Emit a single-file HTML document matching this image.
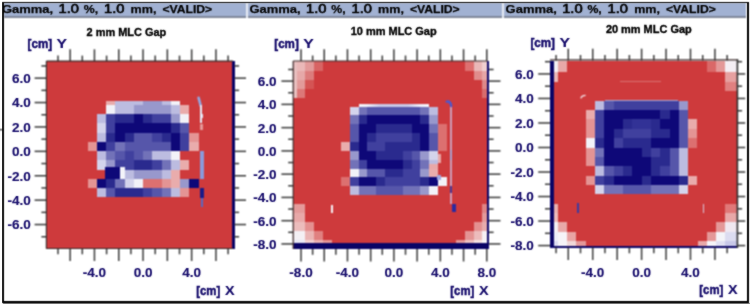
<!DOCTYPE html>
<html><head><meta charset="utf-8"><style>
html,body{margin:0;padding:0;background:#fff;width:750px;height:304px;overflow:hidden}
body{position:relative;font-family:"Liberation Sans",sans-serif}
</style></head><body>
<svg width="750" height="304" viewBox="0 0 750 304" style="position:absolute;left:0;top:0" shape-rendering="crispEdges">
<defs>
<filter id="bl" x="0" y="0" width="1" height="1" color-interpolation-filters="sRGB"><feConvolveMatrix order="3" kernelMatrix="1 2 1 2 4 2 1 2 1" divisor="16" edgeMode="duplicate"/></filter>
<filter id="bt" x="0" y="0" width="1" height="1" color-interpolation-filters="sRGB"><feConvolveMatrix order="3" kernelMatrix="1 2 1 2 16 2 1 2 1" divisor="28" edgeMode="none" preserveAlpha="false"/></filter>
<clipPath id="c0"><rect x="46.4" y="61.1" width="189.6" height="188.4"/></clipPath>
<clipPath id="c1"><rect x="293.2" y="61.0" width="197.3" height="189.0"/></clipPath>
<clipPath id="c2"><rect x="550.0" y="60.5" width="189.60000000000002" height="188.0"/></clipPath>
</defs>
<g filter="url(#bl)">
<rect x="0.00" y="0.00" width="750.00" height="304.00" fill="#ffffff"/>
<rect x="4.00" y="3.00" width="242.00" height="13.40" fill="#a1b1d2"/>
<rect x="4.00" y="16.40" width="242.00" height="1.60" fill="#7e8698"/>
<rect x="46.40" y="61.10" width="186.60" height="187.40" fill="#ce3a3c"/>
<g clip-path="url(#c0)">
<rect x="106.02" y="100.60" width="9.26" height="4.30" fill="#e9acac"/>
<rect x="115.28" y="100.60" width="9.26" height="4.30" fill="#bcbce0"/>
<rect x="124.53" y="100.60" width="9.26" height="4.30" fill="#bcbce0"/>
<rect x="133.79" y="100.60" width="9.26" height="4.30" fill="#bcbce0"/>
<rect x="143.05" y="100.60" width="9.26" height="4.30" fill="#9898cc"/>
<rect x="152.31" y="100.60" width="9.26" height="4.30" fill="#9898cc"/>
<rect x="161.57" y="100.60" width="9.26" height="4.30" fill="#bcbce0"/>
<rect x="170.82" y="100.60" width="9.26" height="4.30" fill="#f2f2f8"/>
<rect x="106.02" y="104.91" width="9.26" height="9.26" fill="#f2f2f8"/>
<rect x="115.28" y="104.91" width="9.26" height="9.26" fill="#bcbce0"/>
<rect x="124.53" y="104.91" width="9.26" height="9.26" fill="#bcbce0"/>
<rect x="133.79" y="104.91" width="9.26" height="9.26" fill="#9898cc"/>
<rect x="143.05" y="104.91" width="9.26" height="9.26" fill="#9898cc"/>
<rect x="152.31" y="104.91" width="9.26" height="9.26" fill="#9898cc"/>
<rect x="161.57" y="104.91" width="9.26" height="9.26" fill="#9898cc"/>
<rect x="170.82" y="104.91" width="9.26" height="9.26" fill="#bcbce0"/>
<rect x="180.08" y="104.91" width="9.26" height="9.26" fill="#e9acac"/>
<rect x="96.76" y="114.17" width="9.26" height="9.26" fill="#bcbce0"/>
<rect x="106.02" y="114.17" width="9.26" height="9.26" fill="#40409e"/>
<rect x="115.28" y="114.17" width="9.26" height="9.26" fill="#2a2a8e"/>
<rect x="124.53" y="114.17" width="9.26" height="9.26" fill="#2a2a8e"/>
<rect x="133.79" y="114.17" width="9.26" height="9.26" fill="#0e0878"/>
<rect x="143.05" y="114.17" width="9.26" height="9.26" fill="#2a2a8e"/>
<rect x="152.31" y="114.17" width="9.26" height="9.26" fill="#40409e"/>
<rect x="161.57" y="114.17" width="9.26" height="9.26" fill="#40409e"/>
<rect x="170.82" y="114.17" width="9.26" height="9.26" fill="#9898cc"/>
<rect x="180.08" y="114.17" width="9.26" height="9.26" fill="#f2f2f8"/>
<rect x="96.76" y="123.43" width="9.26" height="9.26" fill="#d4d4ec"/>
<rect x="106.02" y="123.43" width="9.26" height="9.26" fill="#40409e"/>
<rect x="115.28" y="123.43" width="9.26" height="9.26" fill="#0e0878"/>
<rect x="124.53" y="123.43" width="9.26" height="9.26" fill="#0e0878"/>
<rect x="133.79" y="123.43" width="9.26" height="9.26" fill="#0e0878"/>
<rect x="143.05" y="123.43" width="9.26" height="9.26" fill="#0e0878"/>
<rect x="152.31" y="123.43" width="9.26" height="9.26" fill="#0e0878"/>
<rect x="161.57" y="123.43" width="9.26" height="9.26" fill="#0e0878"/>
<rect x="170.82" y="123.43" width="9.26" height="9.26" fill="#2a2a8e"/>
<rect x="180.08" y="123.43" width="9.26" height="9.26" fill="#5656aa"/>
<rect x="96.76" y="132.68" width="9.26" height="9.26" fill="#bcbce0"/>
<rect x="106.02" y="132.68" width="9.26" height="9.26" fill="#2a2a8e"/>
<rect x="115.28" y="132.68" width="9.26" height="9.26" fill="#0e0878"/>
<rect x="124.53" y="132.68" width="9.26" height="9.26" fill="#2a2a8e"/>
<rect x="133.79" y="132.68" width="9.26" height="9.26" fill="#5656aa"/>
<rect x="143.05" y="132.68" width="9.26" height="9.26" fill="#5656aa"/>
<rect x="152.31" y="132.68" width="9.26" height="9.26" fill="#40409e"/>
<rect x="161.57" y="132.68" width="9.26" height="9.26" fill="#2a2a8e"/>
<rect x="170.82" y="132.68" width="9.26" height="9.26" fill="#0e0878"/>
<rect x="180.08" y="132.68" width="9.26" height="9.26" fill="#40409e"/>
<rect x="189.34" y="132.68" width="9.26" height="9.26" fill="#e49494"/>
<rect x="87.50" y="141.94" width="9.26" height="9.26" fill="#e49494"/>
<rect x="96.76" y="141.94" width="9.26" height="9.26" fill="#0e0878"/>
<rect x="106.02" y="141.94" width="9.26" height="9.26" fill="#40409e"/>
<rect x="115.28" y="141.94" width="9.26" height="9.26" fill="#7272b8"/>
<rect x="124.53" y="141.94" width="9.26" height="9.26" fill="#5656aa"/>
<rect x="133.79" y="141.94" width="9.26" height="9.26" fill="#5656aa"/>
<rect x="143.05" y="141.94" width="9.26" height="9.26" fill="#5656aa"/>
<rect x="152.31" y="141.94" width="9.26" height="9.26" fill="#5656aa"/>
<rect x="161.57" y="141.94" width="9.26" height="9.26" fill="#5656aa"/>
<rect x="170.82" y="141.94" width="9.26" height="9.26" fill="#0e0878"/>
<rect x="180.08" y="141.94" width="9.26" height="9.26" fill="#40409e"/>
<rect x="189.34" y="141.94" width="9.26" height="9.26" fill="#e9acac"/>
<rect x="96.76" y="151.20" width="9.26" height="9.26" fill="#bcbce0"/>
<rect x="106.02" y="151.20" width="9.26" height="9.26" fill="#7272b8"/>
<rect x="115.28" y="151.20" width="9.26" height="9.26" fill="#5656aa"/>
<rect x="124.53" y="151.20" width="9.26" height="9.26" fill="#40409e"/>
<rect x="133.79" y="151.20" width="9.26" height="9.26" fill="#5656aa"/>
<rect x="143.05" y="151.20" width="9.26" height="9.26" fill="#7272b8"/>
<rect x="152.31" y="151.20" width="9.26" height="9.26" fill="#bcbce0"/>
<rect x="161.57" y="151.20" width="9.26" height="9.26" fill="#bcbce0"/>
<rect x="170.82" y="151.20" width="9.26" height="9.26" fill="#f2f2f8"/>
<rect x="96.76" y="160.46" width="9.26" height="9.26" fill="#d4d4ec"/>
<rect x="106.02" y="160.46" width="9.26" height="9.26" fill="#9898cc"/>
<rect x="115.28" y="160.46" width="9.26" height="9.26" fill="#40409e"/>
<rect x="124.53" y="160.46" width="9.26" height="9.26" fill="#40409e"/>
<rect x="133.79" y="160.46" width="9.26" height="9.26" fill="#2a2a8e"/>
<rect x="143.05" y="160.46" width="9.26" height="9.26" fill="#2a2a8e"/>
<rect x="152.31" y="160.46" width="9.26" height="9.26" fill="#40409e"/>
<rect x="161.57" y="160.46" width="9.26" height="9.26" fill="#7272b8"/>
<rect x="170.82" y="160.46" width="9.26" height="9.26" fill="#bcbce0"/>
<rect x="180.08" y="160.46" width="9.26" height="9.26" fill="#e9acac"/>
<rect x="106.02" y="169.72" width="9.26" height="9.26" fill="#0e0878"/>
<rect x="115.28" y="169.72" width="9.26" height="9.26" fill="#0e0878"/>
<rect x="124.53" y="169.72" width="9.26" height="9.26" fill="#bcbce0"/>
<rect x="133.79" y="169.72" width="9.26" height="9.26" fill="#9898cc"/>
<rect x="143.05" y="169.72" width="9.26" height="9.26" fill="#9898cc"/>
<rect x="152.31" y="169.72" width="9.26" height="9.26" fill="#9898cc"/>
<rect x="161.57" y="169.72" width="9.26" height="9.26" fill="#bcbce0"/>
<rect x="170.82" y="169.72" width="9.26" height="9.26" fill="#e9acac"/>
<rect x="87.50" y="178.97" width="9.26" height="9.26" fill="#e49494"/>
<rect x="96.76" y="178.97" width="9.26" height="9.26" fill="#0e0878"/>
<rect x="106.02" y="178.97" width="9.26" height="9.26" fill="#2a2a8e"/>
<rect x="115.28" y="178.97" width="9.26" height="9.26" fill="#7272b8"/>
<rect x="124.53" y="178.97" width="9.26" height="9.26" fill="#d4d4ec"/>
<rect x="133.79" y="178.97" width="9.26" height="9.26" fill="#f2f2f8"/>
<rect x="143.05" y="178.97" width="9.26" height="9.26" fill="#dc7070"/>
<rect x="152.31" y="178.97" width="9.26" height="9.26" fill="#dc7070"/>
<rect x="161.57" y="178.97" width="9.26" height="9.26" fill="#e49494"/>
<rect x="170.82" y="178.97" width="9.26" height="9.26" fill="#e9acac"/>
<rect x="180.08" y="178.97" width="9.26" height="9.26" fill="#9898cc"/>
<rect x="189.34" y="178.97" width="9.26" height="9.26" fill="#0e0878"/>
<rect x="96.76" y="188.23" width="9.26" height="9.26" fill="#bcbce0"/>
<rect x="106.02" y="188.23" width="9.26" height="9.26" fill="#5656aa"/>
<rect x="115.28" y="188.23" width="9.26" height="9.26" fill="#2a2a8e"/>
<rect x="124.53" y="188.23" width="9.26" height="9.26" fill="#2a2a8e"/>
<rect x="133.79" y="188.23" width="9.26" height="9.26" fill="#2a2a8e"/>
<rect x="143.05" y="188.23" width="9.26" height="9.26" fill="#40409e"/>
<rect x="152.31" y="188.23" width="9.26" height="9.26" fill="#5656aa"/>
<rect x="161.57" y="188.23" width="9.26" height="9.26" fill="#7272b8"/>
<rect x="170.82" y="188.23" width="9.26" height="9.26" fill="#bcbce0"/>
<rect x="180.08" y="188.23" width="9.26" height="9.26" fill="#e49494"/>
<rect x="232.30" y="61.10" width="3.10" height="187.40" fill="#0a0466"/>
<rect x="104.90" y="167.20" width="15.10" height="11.80" fill="#0e0878"/>
<rect x="120.00" y="167.20" width="4.50" height="11.80" fill="#f4f4fa"/>
<path d="M198.6 97.8 L200.8 106" stroke="#90a8e4" stroke-width="2.6" fill="none" stroke-linecap="round" shape-rendering="auto"/>
<rect x="199.80" y="105.00" width="2.50" height="18.30" fill="#e6e8f6"/>
<rect x="201.50" y="114.20" width="1.90" height="3.60" fill="#e6e8f6"/>
<rect x="200.10" y="124.30" width="2.60" height="5.50" fill="#e49898"/>
<rect x="200.30" y="151.00" width="3.20" height="27.50" fill="#8a9ada"/>
<rect x="200.40" y="187.80" width="3.30" height="10.20" fill="#1a1a88"/>
<rect x="200.60" y="198.00" width="2.80" height="8.50" fill="#5a68c0"/>
</g>
<line x1="58.00" y1="61.10" x2="58.00" y2="55.60" stroke="#3a3a3a" stroke-width="1.5" shape-rendering="auto"/>
<line x1="58.00" y1="248.50" x2="58.00" y2="254.30" stroke="#3a3a3a" stroke-width="1.5" shape-rendering="auto"/>
<line x1="70.15" y1="61.10" x2="70.15" y2="49.30" stroke="#3a3a3a" stroke-width="1.5" shape-rendering="auto"/>
<line x1="70.15" y1="248.50" x2="70.15" y2="261.00" stroke="#3a3a3a" stroke-width="1.5" shape-rendering="auto"/>
<line x1="82.30" y1="61.10" x2="82.30" y2="55.60" stroke="#3a3a3a" stroke-width="1.5" shape-rendering="auto"/>
<line x1="82.30" y1="248.50" x2="82.30" y2="254.30" stroke="#3a3a3a" stroke-width="1.5" shape-rendering="auto"/>
<line x1="94.45" y1="61.10" x2="94.45" y2="49.30" stroke="#3a3a3a" stroke-width="1.5" shape-rendering="auto"/>
<line x1="94.45" y1="248.50" x2="94.45" y2="261.00" stroke="#3a3a3a" stroke-width="1.5" shape-rendering="auto"/>
<line x1="106.60" y1="61.10" x2="106.60" y2="55.60" stroke="#3a3a3a" stroke-width="1.5" shape-rendering="auto"/>
<line x1="106.60" y1="248.50" x2="106.60" y2="254.30" stroke="#3a3a3a" stroke-width="1.5" shape-rendering="auto"/>
<line x1="118.75" y1="61.10" x2="118.75" y2="49.30" stroke="#3a3a3a" stroke-width="1.5" shape-rendering="auto"/>
<line x1="118.75" y1="248.50" x2="118.75" y2="261.00" stroke="#3a3a3a" stroke-width="1.5" shape-rendering="auto"/>
<line x1="130.90" y1="61.10" x2="130.90" y2="55.60" stroke="#3a3a3a" stroke-width="1.5" shape-rendering="auto"/>
<line x1="130.90" y1="248.50" x2="130.90" y2="254.30" stroke="#3a3a3a" stroke-width="1.5" shape-rendering="auto"/>
<line x1="143.05" y1="61.10" x2="143.05" y2="49.30" stroke="#3a3a3a" stroke-width="1.5" shape-rendering="auto"/>
<line x1="143.05" y1="248.50" x2="143.05" y2="261.00" stroke="#3a3a3a" stroke-width="1.5" shape-rendering="auto"/>
<line x1="155.20" y1="61.10" x2="155.20" y2="55.60" stroke="#3a3a3a" stroke-width="1.5" shape-rendering="auto"/>
<line x1="155.20" y1="248.50" x2="155.20" y2="254.30" stroke="#3a3a3a" stroke-width="1.5" shape-rendering="auto"/>
<line x1="167.35" y1="61.10" x2="167.35" y2="49.30" stroke="#3a3a3a" stroke-width="1.5" shape-rendering="auto"/>
<line x1="167.35" y1="248.50" x2="167.35" y2="261.00" stroke="#3a3a3a" stroke-width="1.5" shape-rendering="auto"/>
<line x1="179.50" y1="61.10" x2="179.50" y2="55.60" stroke="#3a3a3a" stroke-width="1.5" shape-rendering="auto"/>
<line x1="179.50" y1="248.50" x2="179.50" y2="254.30" stroke="#3a3a3a" stroke-width="1.5" shape-rendering="auto"/>
<line x1="191.65" y1="61.10" x2="191.65" y2="49.30" stroke="#3a3a3a" stroke-width="1.5" shape-rendering="auto"/>
<line x1="191.65" y1="248.50" x2="191.65" y2="261.00" stroke="#3a3a3a" stroke-width="1.5" shape-rendering="auto"/>
<line x1="203.80" y1="61.10" x2="203.80" y2="55.60" stroke="#3a3a3a" stroke-width="1.5" shape-rendering="auto"/>
<line x1="203.80" y1="248.50" x2="203.80" y2="254.30" stroke="#3a3a3a" stroke-width="1.5" shape-rendering="auto"/>
<line x1="215.95" y1="61.10" x2="215.95" y2="49.30" stroke="#3a3a3a" stroke-width="1.5" shape-rendering="auto"/>
<line x1="215.95" y1="248.50" x2="215.95" y2="261.00" stroke="#3a3a3a" stroke-width="1.5" shape-rendering="auto"/>
<line x1="228.10" y1="61.10" x2="228.10" y2="55.60" stroke="#3a3a3a" stroke-width="1.5" shape-rendering="auto"/>
<line x1="228.10" y1="248.50" x2="228.10" y2="254.30" stroke="#3a3a3a" stroke-width="1.5" shape-rendering="auto"/>
<line x1="46.40" y1="236.75" x2="41.40" y2="236.75" stroke="#3a3a3a" stroke-width="1.5" shape-rendering="auto"/>
<line x1="234.50" y1="236.75" x2="239.10" y2="236.75" stroke="#3a3a3a" stroke-width="1.5" shape-rendering="auto"/>
<line x1="46.40" y1="224.55" x2="34.60" y2="224.55" stroke="#3a3a3a" stroke-width="1.5" shape-rendering="auto"/>
<line x1="234.50" y1="224.55" x2="246.00" y2="224.55" stroke="#3a3a3a" stroke-width="1.5" shape-rendering="auto"/>
<line x1="46.40" y1="212.35" x2="41.40" y2="212.35" stroke="#3a3a3a" stroke-width="1.5" shape-rendering="auto"/>
<line x1="234.50" y1="212.35" x2="239.10" y2="212.35" stroke="#3a3a3a" stroke-width="1.5" shape-rendering="auto"/>
<line x1="46.40" y1="200.15" x2="34.60" y2="200.15" stroke="#3a3a3a" stroke-width="1.5" shape-rendering="auto"/>
<line x1="234.50" y1="200.15" x2="246.00" y2="200.15" stroke="#3a3a3a" stroke-width="1.5" shape-rendering="auto"/>
<line x1="46.40" y1="187.95" x2="41.40" y2="187.95" stroke="#3a3a3a" stroke-width="1.5" shape-rendering="auto"/>
<line x1="234.50" y1="187.95" x2="239.10" y2="187.95" stroke="#3a3a3a" stroke-width="1.5" shape-rendering="auto"/>
<line x1="46.40" y1="175.75" x2="34.60" y2="175.75" stroke="#3a3a3a" stroke-width="1.5" shape-rendering="auto"/>
<line x1="234.50" y1="175.75" x2="246.00" y2="175.75" stroke="#3a3a3a" stroke-width="1.5" shape-rendering="auto"/>
<line x1="46.40" y1="163.55" x2="41.40" y2="163.55" stroke="#3a3a3a" stroke-width="1.5" shape-rendering="auto"/>
<line x1="234.50" y1="163.55" x2="239.10" y2="163.55" stroke="#3a3a3a" stroke-width="1.5" shape-rendering="auto"/>
<line x1="46.40" y1="151.35" x2="34.60" y2="151.35" stroke="#3a3a3a" stroke-width="1.5" shape-rendering="auto"/>
<line x1="234.50" y1="151.35" x2="246.00" y2="151.35" stroke="#3a3a3a" stroke-width="1.5" shape-rendering="auto"/>
<line x1="46.40" y1="139.15" x2="41.40" y2="139.15" stroke="#3a3a3a" stroke-width="1.5" shape-rendering="auto"/>
<line x1="234.50" y1="139.15" x2="239.10" y2="139.15" stroke="#3a3a3a" stroke-width="1.5" shape-rendering="auto"/>
<line x1="46.40" y1="126.95" x2="34.60" y2="126.95" stroke="#3a3a3a" stroke-width="1.5" shape-rendering="auto"/>
<line x1="234.50" y1="126.95" x2="246.00" y2="126.95" stroke="#3a3a3a" stroke-width="1.5" shape-rendering="auto"/>
<line x1="46.40" y1="114.75" x2="41.40" y2="114.75" stroke="#3a3a3a" stroke-width="1.5" shape-rendering="auto"/>
<line x1="234.50" y1="114.75" x2="239.10" y2="114.75" stroke="#3a3a3a" stroke-width="1.5" shape-rendering="auto"/>
<line x1="46.40" y1="102.55" x2="34.60" y2="102.55" stroke="#3a3a3a" stroke-width="1.5" shape-rendering="auto"/>
<line x1="234.50" y1="102.55" x2="246.00" y2="102.55" stroke="#3a3a3a" stroke-width="1.5" shape-rendering="auto"/>
<line x1="46.40" y1="90.35" x2="41.40" y2="90.35" stroke="#3a3a3a" stroke-width="1.5" shape-rendering="auto"/>
<line x1="234.50" y1="90.35" x2="239.10" y2="90.35" stroke="#3a3a3a" stroke-width="1.5" shape-rendering="auto"/>
<line x1="46.40" y1="78.15" x2="34.60" y2="78.15" stroke="#3a3a3a" stroke-width="1.5" shape-rendering="auto"/>
<line x1="234.50" y1="78.15" x2="246.00" y2="78.15" stroke="#3a3a3a" stroke-width="1.5" shape-rendering="auto"/>
<line x1="46.40" y1="65.95" x2="41.40" y2="65.95" stroke="#3a3a3a" stroke-width="1.5" shape-rendering="auto"/>
<line x1="234.50" y1="65.95" x2="239.10" y2="65.95" stroke="#3a3a3a" stroke-width="1.5" shape-rendering="auto"/>
<line x1="46.40" y1="61.10" x2="233.00" y2="61.10" stroke="#3a2a2a" stroke-width="1.2" shape-rendering="auto"/>
<line x1="46.40" y1="61.10" x2="46.40" y2="248.50" stroke="#3a2a2a" stroke-width="1.2" shape-rendering="auto"/>
<line x1="46.40" y1="248.50" x2="233.00" y2="248.50" stroke="#3a2a2a" stroke-width="1.2" shape-rendering="auto"/>
<rect x="248.00" y="3.00" width="254.00" height="13.40" fill="#a1b1d2"/>
<rect x="248.00" y="16.40" width="254.00" height="1.60" fill="#7e8698"/>
<rect x="293.20" y="61.00" width="194.30" height="188.00" fill="#ce3a3c"/>
<g clip-path="url(#c1)">
<rect x="349.66" y="106.62" width="8.85" height="8.86" fill="#d4d4ec"/>
<rect x="358.51" y="106.62" width="8.85" height="8.86" fill="#7272b8"/>
<rect x="367.36" y="106.62" width="8.85" height="8.86" fill="#5656aa"/>
<rect x="376.21" y="106.62" width="8.85" height="8.86" fill="#5656aa"/>
<rect x="385.05" y="106.62" width="8.85" height="8.86" fill="#5656aa"/>
<rect x="393.90" y="106.62" width="8.85" height="8.86" fill="#5656aa"/>
<rect x="402.75" y="106.62" width="8.85" height="8.86" fill="#5656aa"/>
<rect x="411.59" y="106.62" width="8.85" height="8.86" fill="#5656aa"/>
<rect x="420.44" y="106.62" width="8.85" height="8.86" fill="#7272b8"/>
<rect x="429.29" y="106.62" width="8.85" height="8.86" fill="#bcbce0"/>
<rect x="349.66" y="115.47" width="8.85" height="8.86" fill="#7272b8"/>
<rect x="358.51" y="115.47" width="8.85" height="8.86" fill="#2a2a8e"/>
<rect x="367.36" y="115.47" width="8.85" height="8.86" fill="#0e0878"/>
<rect x="376.21" y="115.47" width="8.85" height="8.86" fill="#0e0878"/>
<rect x="385.05" y="115.47" width="8.85" height="8.86" fill="#0e0878"/>
<rect x="393.90" y="115.47" width="8.85" height="8.86" fill="#0e0878"/>
<rect x="402.75" y="115.47" width="8.85" height="8.86" fill="#0e0878"/>
<rect x="411.59" y="115.47" width="8.85" height="8.86" fill="#0e0878"/>
<rect x="420.44" y="115.47" width="8.85" height="8.86" fill="#2a2a8e"/>
<rect x="429.29" y="115.47" width="8.85" height="8.86" fill="#9898cc"/>
<rect x="349.66" y="124.33" width="8.85" height="8.86" fill="#5656aa"/>
<rect x="358.51" y="124.33" width="8.85" height="8.86" fill="#0e0878"/>
<rect x="367.36" y="124.33" width="8.85" height="8.86" fill="#0e0878"/>
<rect x="376.21" y="124.33" width="8.85" height="8.86" fill="#2a2a8e"/>
<rect x="385.05" y="124.33" width="8.85" height="8.86" fill="#2a2a8e"/>
<rect x="393.90" y="124.33" width="8.85" height="8.86" fill="#2a2a8e"/>
<rect x="402.75" y="124.33" width="8.85" height="8.86" fill="#2a2a8e"/>
<rect x="411.59" y="124.33" width="8.85" height="8.86" fill="#0e0878"/>
<rect x="420.44" y="124.33" width="8.85" height="8.86" fill="#0e0878"/>
<rect x="429.29" y="124.33" width="8.85" height="8.86" fill="#7272b8"/>
<rect x="438.13" y="124.33" width="8.85" height="8.86" fill="#dc7070"/>
<rect x="349.66" y="133.19" width="8.85" height="8.86" fill="#5656aa"/>
<rect x="358.51" y="133.19" width="8.85" height="8.86" fill="#0e0878"/>
<rect x="367.36" y="133.19" width="8.85" height="8.86" fill="#2a2a8e"/>
<rect x="376.21" y="133.19" width="8.85" height="8.86" fill="#40409e"/>
<rect x="385.05" y="133.19" width="8.85" height="8.86" fill="#40409e"/>
<rect x="393.90" y="133.19" width="8.85" height="8.86" fill="#40409e"/>
<rect x="402.75" y="133.19" width="8.85" height="8.86" fill="#40409e"/>
<rect x="411.59" y="133.19" width="8.85" height="8.86" fill="#2a2a8e"/>
<rect x="420.44" y="133.19" width="8.85" height="8.86" fill="#0e0878"/>
<rect x="429.29" y="133.19" width="8.85" height="8.86" fill="#5656aa"/>
<rect x="438.13" y="133.19" width="8.85" height="8.86" fill="#dc7070"/>
<rect x="340.82" y="142.04" width="8.85" height="8.86" fill="#e9acac"/>
<rect x="349.66" y="142.04" width="8.85" height="8.86" fill="#2a2a8e"/>
<rect x="358.51" y="142.04" width="8.85" height="8.86" fill="#0e0878"/>
<rect x="367.36" y="142.04" width="8.85" height="8.86" fill="#40409e"/>
<rect x="376.21" y="142.04" width="8.85" height="8.86" fill="#40409e"/>
<rect x="385.05" y="142.04" width="8.85" height="8.86" fill="#2a2a8e"/>
<rect x="393.90" y="142.04" width="8.85" height="8.86" fill="#2a2a8e"/>
<rect x="402.75" y="142.04" width="8.85" height="8.86" fill="#2a2a8e"/>
<rect x="411.59" y="142.04" width="8.85" height="8.86" fill="#2a2a8e"/>
<rect x="420.44" y="142.04" width="8.85" height="8.86" fill="#0e0878"/>
<rect x="429.29" y="142.04" width="8.85" height="8.86" fill="#5656aa"/>
<rect x="438.13" y="142.04" width="8.85" height="8.86" fill="#dc7070"/>
<rect x="349.66" y="150.90" width="8.85" height="8.86" fill="#9898cc"/>
<rect x="358.51" y="150.90" width="8.85" height="8.86" fill="#0e0878"/>
<rect x="367.36" y="150.90" width="8.85" height="8.86" fill="#0e0878"/>
<rect x="376.21" y="150.90" width="8.85" height="8.86" fill="#2a2a8e"/>
<rect x="385.05" y="150.90" width="8.85" height="8.86" fill="#2a2a8e"/>
<rect x="393.90" y="150.90" width="8.85" height="8.86" fill="#2a2a8e"/>
<rect x="402.75" y="150.90" width="8.85" height="8.86" fill="#40409e"/>
<rect x="411.59" y="150.90" width="8.85" height="8.86" fill="#5656aa"/>
<rect x="420.44" y="150.90" width="8.85" height="8.86" fill="#9898cc"/>
<rect x="429.29" y="150.90" width="8.85" height="8.86" fill="#d4d4ec"/>
<rect x="349.66" y="159.76" width="8.85" height="8.86" fill="#7272b8"/>
<rect x="358.51" y="159.76" width="8.85" height="8.86" fill="#40409e"/>
<rect x="367.36" y="159.76" width="8.85" height="8.86" fill="#0e0878"/>
<rect x="376.21" y="159.76" width="8.85" height="8.86" fill="#0e0878"/>
<rect x="385.05" y="159.76" width="8.85" height="8.86" fill="#0e0878"/>
<rect x="393.90" y="159.76" width="8.85" height="8.86" fill="#0e0878"/>
<rect x="402.75" y="159.76" width="8.85" height="8.86" fill="#2a2a8e"/>
<rect x="411.59" y="159.76" width="8.85" height="8.86" fill="#40409e"/>
<rect x="420.44" y="159.76" width="8.85" height="8.86" fill="#7272b8"/>
<rect x="429.29" y="159.76" width="8.85" height="8.86" fill="#bcbce0"/>
<rect x="349.66" y="168.61" width="8.85" height="8.86" fill="#f2f2f8"/>
<rect x="358.51" y="168.61" width="8.85" height="8.86" fill="#9898cc"/>
<rect x="367.36" y="168.61" width="8.85" height="8.86" fill="#5656aa"/>
<rect x="376.21" y="168.61" width="8.85" height="8.86" fill="#5656aa"/>
<rect x="385.05" y="168.61" width="8.85" height="8.86" fill="#2a2a8e"/>
<rect x="393.90" y="168.61" width="8.85" height="8.86" fill="#2a2a8e"/>
<rect x="402.75" y="168.61" width="8.85" height="8.86" fill="#40409e"/>
<rect x="411.59" y="168.61" width="8.85" height="8.86" fill="#40409e"/>
<rect x="420.44" y="168.61" width="8.85" height="8.86" fill="#9898cc"/>
<rect x="429.29" y="168.61" width="8.85" height="8.86" fill="#e9acac"/>
<rect x="340.82" y="177.47" width="8.85" height="8.86" fill="#dc7070"/>
<rect x="349.66" y="177.47" width="8.85" height="8.86" fill="#40409e"/>
<rect x="358.51" y="177.47" width="8.85" height="8.86" fill="#0e0878"/>
<rect x="367.36" y="177.47" width="8.85" height="8.86" fill="#0e0878"/>
<rect x="376.21" y="177.47" width="8.85" height="8.86" fill="#2a2a8e"/>
<rect x="385.05" y="177.47" width="8.85" height="8.86" fill="#40409e"/>
<rect x="393.90" y="177.47" width="8.85" height="8.86" fill="#40409e"/>
<rect x="402.75" y="177.47" width="8.85" height="8.86" fill="#40409e"/>
<rect x="411.59" y="177.47" width="8.85" height="8.86" fill="#40409e"/>
<rect x="420.44" y="177.47" width="8.85" height="8.86" fill="#2a2a8e"/>
<rect x="429.29" y="177.47" width="8.85" height="8.86" fill="#0e0878"/>
<rect x="438.13" y="177.47" width="8.85" height="8.86" fill="#f2f2f8"/>
<rect x="349.66" y="186.33" width="8.85" height="8.86" fill="#bcbce0"/>
<rect x="358.51" y="186.33" width="8.85" height="8.86" fill="#7272b8"/>
<rect x="367.36" y="186.33" width="8.85" height="8.86" fill="#7272b8"/>
<rect x="376.21" y="186.33" width="8.85" height="8.86" fill="#5656aa"/>
<rect x="385.05" y="186.33" width="8.85" height="8.86" fill="#5656aa"/>
<rect x="393.90" y="186.33" width="8.85" height="8.86" fill="#5656aa"/>
<rect x="402.75" y="186.33" width="8.85" height="8.86" fill="#7272b8"/>
<rect x="411.59" y="186.33" width="8.85" height="8.86" fill="#7272b8"/>
<rect x="420.44" y="186.33" width="8.85" height="8.86" fill="#9898cc"/>
<rect x="429.29" y="186.33" width="8.85" height="8.86" fill="#f2f2f8"/>
<defs><linearGradient id="wg" x1="0" x2="1"><stop offset="0" stop-color="#f6f6fb"/><stop offset="0.12" stop-color="#eeeef8"/><stop offset="0.3" stop-color="#c8c8e6"/><stop offset="0.7" stop-color="#c8c8e6"/><stop offset="0.88" stop-color="#eeeef8"/><stop offset="1" stop-color="#f6f6fb"/></linearGradient></defs>
<rect x="358.80" y="104.40" width="69.90" height="2.60" fill="url(#wg)"/>
<rect x="437.50" y="154.00" width="3.50" height="9.00" fill="#e8a8a8"/>
<rect x="429.30" y="164.00" width="8.80" height="4.60" fill="#e8a8a8"/>
<rect x="436.80" y="174.60" width="4.20" height="5.40" fill="#a0a8e0"/>
<rect x="450.20" y="106.00" width="1.90" height="97.50" fill="#cc9cb8"/>
<rect x="450.20" y="150.00" width="1.90" height="10.00" fill="#a8a0d0"/>
<rect x="450.20" y="186.00" width="1.90" height="7.00" fill="#4a3a98"/>
<path d="M446.6 101.6 Q450.6 101.2 451.2 106" stroke="#4a58d0" stroke-width="2.4" fill="none" stroke-linecap="round" shape-rendering="auto"/>
<rect x="451.70" y="203.80" width="3.90" height="8.60" fill="#2a2aa0"/>
<rect x="331.40" y="204.60" width="1.90" height="8.00" fill="#f6f2f6"/>
<rect x="293.20" y="61.00" width="3.40" height="36.80" fill="#e8c0c0"/>
<rect x="296.60" y="61.00" width="8.80" height="10.20" fill="#eab8b8"/>
<rect x="305.40" y="61.00" width="8.90" height="10.20" fill="#e29a9a"/>
<rect x="314.30" y="61.00" width="8.80" height="10.20" fill="#d86464"/>
<rect x="296.60" y="71.20" width="8.80" height="8.80" fill="#e6a8a8"/>
<rect x="305.40" y="71.20" width="8.90" height="8.80" fill="#dc7c7c"/>
<rect x="296.60" y="80.00" width="8.80" height="8.90" fill="#e29a9a"/>
<rect x="305.40" y="80.00" width="8.90" height="8.90" fill="#d45454"/>
<rect x="296.60" y="88.90" width="8.80" height="8.90" fill="#dc7878"/>
<rect x="464.70" y="61.00" width="8.80" height="10.20" fill="#de7070"/>
<rect x="473.50" y="61.00" width="8.90" height="10.20" fill="#eab8b8"/>
<rect x="482.40" y="61.00" width="4.60" height="10.20" fill="#f0d0d0"/>
<rect x="473.50" y="71.20" width="8.90" height="8.80" fill="#e08c8c"/>
<rect x="482.40" y="71.20" width="4.60" height="8.80" fill="#e6a6a6"/>
<rect x="482.40" y="80.00" width="4.60" height="8.90" fill="#de8888"/>
<rect x="482.40" y="88.90" width="4.60" height="8.90" fill="#d86c6c"/>
<rect x="293.20" y="204.00" width="12.20" height="8.90" fill="#e49a9a"/>
<rect x="293.20" y="212.90" width="12.20" height="8.90" fill="#e8a8a8"/>
<rect x="293.20" y="221.80" width="12.20" height="8.80" fill="#ecbcbc"/>
<rect x="305.40" y="221.80" width="8.90" height="8.80" fill="#e49090"/>
<rect x="293.20" y="230.60" width="12.20" height="8.90" fill="#f4f0f4"/>
<rect x="305.40" y="230.60" width="8.90" height="8.90" fill="#eab4b4"/>
<rect x="314.30" y="230.60" width="8.80" height="8.90" fill="#e08080"/>
<rect x="293.20" y="239.50" width="12.20" height="4.50" fill="#e8e8f4"/>
<rect x="305.40" y="239.50" width="8.90" height="4.50" fill="#f0d0d0"/>
<rect x="314.30" y="239.50" width="8.80" height="4.50" fill="#eab0b0"/>
<rect x="323.10" y="239.50" width="8.90" height="4.50" fill="#e49494"/>
<rect x="482.40" y="204.00" width="4.60" height="8.90" fill="#e08484"/>
<rect x="482.40" y="212.90" width="4.60" height="8.90" fill="#e49a9a"/>
<rect x="482.40" y="221.80" width="4.60" height="8.80" fill="#e8acac"/>
<rect x="473.50" y="221.80" width="8.90" height="8.80" fill="#e49090"/>
<rect x="482.40" y="230.60" width="4.60" height="8.90" fill="#f6f0f4"/>
<rect x="473.50" y="230.60" width="8.90" height="8.90" fill="#ecbcbc"/>
<rect x="464.70" y="230.60" width="8.80" height="8.90" fill="#e49494"/>
<rect x="482.40" y="239.50" width="4.60" height="4.50" fill="#f6f4f8"/>
<rect x="473.50" y="239.50" width="8.90" height="4.50" fill="#f4e0e0"/>
<rect x="464.70" y="239.50" width="8.80" height="4.50" fill="#ecc0c0"/>
<rect x="455.80" y="239.50" width="8.90" height="4.50" fill="#e49898"/>
<rect x="293.20" y="243.30" width="195.80" height="5.70" fill="#0a0466"/>
<rect x="486.80" y="61.00" width="2.20" height="188.20" fill="#0a0466"/>
</g>
<line x1="301.02" y1="61.00" x2="301.02" y2="49.20" stroke="#3a3a3a" stroke-width="1.5" shape-rendering="auto"/>
<line x1="301.02" y1="249.00" x2="301.02" y2="261.50" stroke="#3a3a3a" stroke-width="1.5" shape-rendering="auto"/>
<line x1="312.63" y1="61.00" x2="312.63" y2="55.50" stroke="#3a3a3a" stroke-width="1.5" shape-rendering="auto"/>
<line x1="312.63" y1="249.00" x2="312.63" y2="254.80" stroke="#3a3a3a" stroke-width="1.5" shape-rendering="auto"/>
<line x1="324.24" y1="61.00" x2="324.24" y2="49.20" stroke="#3a3a3a" stroke-width="1.5" shape-rendering="auto"/>
<line x1="324.24" y1="249.00" x2="324.24" y2="261.50" stroke="#3a3a3a" stroke-width="1.5" shape-rendering="auto"/>
<line x1="335.85" y1="61.00" x2="335.85" y2="55.50" stroke="#3a3a3a" stroke-width="1.5" shape-rendering="auto"/>
<line x1="335.85" y1="249.00" x2="335.85" y2="254.80" stroke="#3a3a3a" stroke-width="1.5" shape-rendering="auto"/>
<line x1="347.46" y1="61.00" x2="347.46" y2="49.20" stroke="#3a3a3a" stroke-width="1.5" shape-rendering="auto"/>
<line x1="347.46" y1="249.00" x2="347.46" y2="261.50" stroke="#3a3a3a" stroke-width="1.5" shape-rendering="auto"/>
<line x1="359.07" y1="61.00" x2="359.07" y2="55.50" stroke="#3a3a3a" stroke-width="1.5" shape-rendering="auto"/>
<line x1="359.07" y1="249.00" x2="359.07" y2="254.80" stroke="#3a3a3a" stroke-width="1.5" shape-rendering="auto"/>
<line x1="370.68" y1="61.00" x2="370.68" y2="49.20" stroke="#3a3a3a" stroke-width="1.5" shape-rendering="auto"/>
<line x1="370.68" y1="249.00" x2="370.68" y2="261.50" stroke="#3a3a3a" stroke-width="1.5" shape-rendering="auto"/>
<line x1="382.29" y1="61.00" x2="382.29" y2="55.50" stroke="#3a3a3a" stroke-width="1.5" shape-rendering="auto"/>
<line x1="382.29" y1="249.00" x2="382.29" y2="254.80" stroke="#3a3a3a" stroke-width="1.5" shape-rendering="auto"/>
<line x1="393.90" y1="61.00" x2="393.90" y2="49.20" stroke="#3a3a3a" stroke-width="1.5" shape-rendering="auto"/>
<line x1="393.90" y1="249.00" x2="393.90" y2="261.50" stroke="#3a3a3a" stroke-width="1.5" shape-rendering="auto"/>
<line x1="405.51" y1="61.00" x2="405.51" y2="55.50" stroke="#3a3a3a" stroke-width="1.5" shape-rendering="auto"/>
<line x1="405.51" y1="249.00" x2="405.51" y2="254.80" stroke="#3a3a3a" stroke-width="1.5" shape-rendering="auto"/>
<line x1="417.12" y1="61.00" x2="417.12" y2="49.20" stroke="#3a3a3a" stroke-width="1.5" shape-rendering="auto"/>
<line x1="417.12" y1="249.00" x2="417.12" y2="261.50" stroke="#3a3a3a" stroke-width="1.5" shape-rendering="auto"/>
<line x1="428.73" y1="61.00" x2="428.73" y2="55.50" stroke="#3a3a3a" stroke-width="1.5" shape-rendering="auto"/>
<line x1="428.73" y1="249.00" x2="428.73" y2="254.80" stroke="#3a3a3a" stroke-width="1.5" shape-rendering="auto"/>
<line x1="440.34" y1="61.00" x2="440.34" y2="49.20" stroke="#3a3a3a" stroke-width="1.5" shape-rendering="auto"/>
<line x1="440.34" y1="249.00" x2="440.34" y2="261.50" stroke="#3a3a3a" stroke-width="1.5" shape-rendering="auto"/>
<line x1="451.95" y1="61.00" x2="451.95" y2="55.50" stroke="#3a3a3a" stroke-width="1.5" shape-rendering="auto"/>
<line x1="451.95" y1="249.00" x2="451.95" y2="254.80" stroke="#3a3a3a" stroke-width="1.5" shape-rendering="auto"/>
<line x1="463.56" y1="61.00" x2="463.56" y2="49.20" stroke="#3a3a3a" stroke-width="1.5" shape-rendering="auto"/>
<line x1="463.56" y1="249.00" x2="463.56" y2="261.50" stroke="#3a3a3a" stroke-width="1.5" shape-rendering="auto"/>
<line x1="475.17" y1="61.00" x2="475.17" y2="55.50" stroke="#3a3a3a" stroke-width="1.5" shape-rendering="auto"/>
<line x1="475.17" y1="249.00" x2="475.17" y2="254.80" stroke="#3a3a3a" stroke-width="1.5" shape-rendering="auto"/>
<line x1="486.78" y1="61.00" x2="486.78" y2="49.20" stroke="#3a3a3a" stroke-width="1.5" shape-rendering="auto"/>
<line x1="486.78" y1="249.00" x2="486.78" y2="261.50" stroke="#3a3a3a" stroke-width="1.5" shape-rendering="auto"/>
<line x1="293.20" y1="243.94" x2="281.40" y2="243.94" stroke="#3a3a3a" stroke-width="1.5" shape-rendering="auto"/>
<line x1="489.00" y1="243.94" x2="500.50" y2="243.94" stroke="#3a3a3a" stroke-width="1.5" shape-rendering="auto"/>
<line x1="293.20" y1="232.31" x2="288.20" y2="232.31" stroke="#3a3a3a" stroke-width="1.5" shape-rendering="auto"/>
<line x1="489.00" y1="232.31" x2="493.60" y2="232.31" stroke="#3a3a3a" stroke-width="1.5" shape-rendering="auto"/>
<line x1="293.20" y1="220.68" x2="281.40" y2="220.68" stroke="#3a3a3a" stroke-width="1.5" shape-rendering="auto"/>
<line x1="489.00" y1="220.68" x2="500.50" y2="220.68" stroke="#3a3a3a" stroke-width="1.5" shape-rendering="auto"/>
<line x1="293.20" y1="209.05" x2="288.20" y2="209.05" stroke="#3a3a3a" stroke-width="1.5" shape-rendering="auto"/>
<line x1="489.00" y1="209.05" x2="493.60" y2="209.05" stroke="#3a3a3a" stroke-width="1.5" shape-rendering="auto"/>
<line x1="293.20" y1="197.42" x2="281.40" y2="197.42" stroke="#3a3a3a" stroke-width="1.5" shape-rendering="auto"/>
<line x1="489.00" y1="197.42" x2="500.50" y2="197.42" stroke="#3a3a3a" stroke-width="1.5" shape-rendering="auto"/>
<line x1="293.20" y1="185.79" x2="288.20" y2="185.79" stroke="#3a3a3a" stroke-width="1.5" shape-rendering="auto"/>
<line x1="489.00" y1="185.79" x2="493.60" y2="185.79" stroke="#3a3a3a" stroke-width="1.5" shape-rendering="auto"/>
<line x1="293.20" y1="174.16" x2="281.40" y2="174.16" stroke="#3a3a3a" stroke-width="1.5" shape-rendering="auto"/>
<line x1="489.00" y1="174.16" x2="500.50" y2="174.16" stroke="#3a3a3a" stroke-width="1.5" shape-rendering="auto"/>
<line x1="293.20" y1="162.53" x2="288.20" y2="162.53" stroke="#3a3a3a" stroke-width="1.5" shape-rendering="auto"/>
<line x1="489.00" y1="162.53" x2="493.60" y2="162.53" stroke="#3a3a3a" stroke-width="1.5" shape-rendering="auto"/>
<line x1="293.20" y1="150.90" x2="281.40" y2="150.90" stroke="#3a3a3a" stroke-width="1.5" shape-rendering="auto"/>
<line x1="489.00" y1="150.90" x2="500.50" y2="150.90" stroke="#3a3a3a" stroke-width="1.5" shape-rendering="auto"/>
<line x1="293.20" y1="139.27" x2="288.20" y2="139.27" stroke="#3a3a3a" stroke-width="1.5" shape-rendering="auto"/>
<line x1="489.00" y1="139.27" x2="493.60" y2="139.27" stroke="#3a3a3a" stroke-width="1.5" shape-rendering="auto"/>
<line x1="293.20" y1="127.64" x2="281.40" y2="127.64" stroke="#3a3a3a" stroke-width="1.5" shape-rendering="auto"/>
<line x1="489.00" y1="127.64" x2="500.50" y2="127.64" stroke="#3a3a3a" stroke-width="1.5" shape-rendering="auto"/>
<line x1="293.20" y1="116.01" x2="288.20" y2="116.01" stroke="#3a3a3a" stroke-width="1.5" shape-rendering="auto"/>
<line x1="489.00" y1="116.01" x2="493.60" y2="116.01" stroke="#3a3a3a" stroke-width="1.5" shape-rendering="auto"/>
<line x1="293.20" y1="104.38" x2="281.40" y2="104.38" stroke="#3a3a3a" stroke-width="1.5" shape-rendering="auto"/>
<line x1="489.00" y1="104.38" x2="500.50" y2="104.38" stroke="#3a3a3a" stroke-width="1.5" shape-rendering="auto"/>
<line x1="293.20" y1="92.75" x2="288.20" y2="92.75" stroke="#3a3a3a" stroke-width="1.5" shape-rendering="auto"/>
<line x1="489.00" y1="92.75" x2="493.60" y2="92.75" stroke="#3a3a3a" stroke-width="1.5" shape-rendering="auto"/>
<line x1="293.20" y1="81.12" x2="281.40" y2="81.12" stroke="#3a3a3a" stroke-width="1.5" shape-rendering="auto"/>
<line x1="489.00" y1="81.12" x2="500.50" y2="81.12" stroke="#3a3a3a" stroke-width="1.5" shape-rendering="auto"/>
<line x1="293.20" y1="69.49" x2="288.20" y2="69.49" stroke="#3a3a3a" stroke-width="1.5" shape-rendering="auto"/>
<line x1="489.00" y1="69.49" x2="493.60" y2="69.49" stroke="#3a3a3a" stroke-width="1.5" shape-rendering="auto"/>
<line x1="293.20" y1="61.00" x2="487.50" y2="61.00" stroke="#3a2a2a" stroke-width="1.2" shape-rendering="auto"/>
<line x1="293.20" y1="61.00" x2="293.20" y2="249.00" stroke="#3a2a2a" stroke-width="1.2" shape-rendering="auto"/>
<rect x="504.00" y="3.00" width="242.00" height="13.40" fill="#a1b1d2"/>
<rect x="504.00" y="16.40" width="242.00" height="1.60" fill="#7e8698"/>
<rect x="550.00" y="60.50" width="186.60" height="187.00" fill="#ce3a3c"/>
<g clip-path="url(#c2)">
<rect x="595.04" y="100.79" width="9.31" height="9.34" fill="#bcbce0"/>
<rect x="604.35" y="100.79" width="9.31" height="9.34" fill="#5656aa"/>
<rect x="613.66" y="100.79" width="9.31" height="9.34" fill="#40409e"/>
<rect x="622.98" y="100.79" width="9.31" height="9.34" fill="#40409e"/>
<rect x="632.29" y="100.79" width="9.31" height="9.34" fill="#40409e"/>
<rect x="641.60" y="100.79" width="9.31" height="9.34" fill="#40409e"/>
<rect x="650.91" y="100.79" width="9.31" height="9.34" fill="#40409e"/>
<rect x="660.22" y="100.79" width="9.31" height="9.34" fill="#40409e"/>
<rect x="669.54" y="100.79" width="9.31" height="9.34" fill="#40409e"/>
<rect x="678.85" y="100.79" width="9.31" height="9.34" fill="#9898cc"/>
<rect x="585.73" y="110.13" width="9.31" height="9.34" fill="#e9acac"/>
<rect x="595.04" y="110.13" width="9.31" height="9.34" fill="#40409e"/>
<rect x="604.35" y="110.13" width="9.31" height="9.34" fill="#0e0878"/>
<rect x="613.66" y="110.13" width="9.31" height="9.34" fill="#0e0878"/>
<rect x="622.98" y="110.13" width="9.31" height="9.34" fill="#0e0878"/>
<rect x="632.29" y="110.13" width="9.31" height="9.34" fill="#0e0878"/>
<rect x="641.60" y="110.13" width="9.31" height="9.34" fill="#0e0878"/>
<rect x="650.91" y="110.13" width="9.31" height="9.34" fill="#0e0878"/>
<rect x="660.22" y="110.13" width="9.31" height="9.34" fill="#2a2a8e"/>
<rect x="669.54" y="110.13" width="9.31" height="9.34" fill="#0e0878"/>
<rect x="678.85" y="110.13" width="9.31" height="9.34" fill="#5656aa"/>
<rect x="585.73" y="119.47" width="9.31" height="9.34" fill="#e49494"/>
<rect x="595.04" y="119.47" width="9.31" height="9.34" fill="#40409e"/>
<rect x="604.35" y="119.47" width="9.31" height="9.34" fill="#0e0878"/>
<rect x="613.66" y="119.47" width="9.31" height="9.34" fill="#0e0878"/>
<rect x="622.98" y="119.47" width="9.31" height="9.34" fill="#2a2a8e"/>
<rect x="632.29" y="119.47" width="9.31" height="9.34" fill="#323296"/>
<rect x="641.60" y="119.47" width="9.31" height="9.34" fill="#323296"/>
<rect x="650.91" y="119.47" width="9.31" height="9.34" fill="#2a2a8e"/>
<rect x="660.22" y="119.47" width="9.31" height="9.34" fill="#0e0878"/>
<rect x="669.54" y="119.47" width="9.31" height="9.34" fill="#0e0878"/>
<rect x="678.85" y="119.47" width="9.31" height="9.34" fill="#5656aa"/>
<rect x="688.16" y="119.47" width="9.31" height="9.34" fill="#e9acac"/>
<rect x="585.73" y="128.82" width="9.31" height="9.34" fill="#e49494"/>
<rect x="595.04" y="128.82" width="9.31" height="9.34" fill="#40409e"/>
<rect x="604.35" y="128.82" width="9.31" height="9.34" fill="#0e0878"/>
<rect x="613.66" y="128.82" width="9.31" height="9.34" fill="#2a2a8e"/>
<rect x="622.98" y="128.82" width="9.31" height="9.34" fill="#40409e"/>
<rect x="632.29" y="128.82" width="9.31" height="9.34" fill="#40409e"/>
<rect x="641.60" y="128.82" width="9.31" height="9.34" fill="#40409e"/>
<rect x="650.91" y="128.82" width="9.31" height="9.34" fill="#2a2a8e"/>
<rect x="660.22" y="128.82" width="9.31" height="9.34" fill="#2a2a8e"/>
<rect x="669.54" y="128.82" width="9.31" height="9.34" fill="#0e0878"/>
<rect x="678.85" y="128.82" width="9.31" height="9.34" fill="#5656aa"/>
<rect x="688.16" y="128.82" width="9.31" height="9.34" fill="#e49494"/>
<rect x="585.73" y="138.16" width="9.31" height="9.34" fill="#f2f2f8"/>
<rect x="595.04" y="138.16" width="9.31" height="9.34" fill="#2a2a8e"/>
<rect x="604.35" y="138.16" width="9.31" height="9.34" fill="#0e0878"/>
<rect x="613.66" y="138.16" width="9.31" height="9.34" fill="#40409e"/>
<rect x="622.98" y="138.16" width="9.31" height="9.34" fill="#2a2a8e"/>
<rect x="632.29" y="138.16" width="9.31" height="9.34" fill="#2a2a8e"/>
<rect x="641.60" y="138.16" width="9.31" height="9.34" fill="#2a2a8e"/>
<rect x="650.91" y="138.16" width="9.31" height="9.34" fill="#0e0878"/>
<rect x="660.22" y="138.16" width="9.31" height="9.34" fill="#0e0878"/>
<rect x="669.54" y="138.16" width="9.31" height="9.34" fill="#0e0878"/>
<rect x="678.85" y="138.16" width="9.31" height="9.34" fill="#5656aa"/>
<rect x="688.16" y="138.16" width="9.31" height="9.34" fill="#dc7070"/>
<rect x="585.73" y="147.50" width="9.31" height="9.34" fill="#e49494"/>
<rect x="595.04" y="147.50" width="9.31" height="9.34" fill="#7272b8"/>
<rect x="604.35" y="147.50" width="9.31" height="9.34" fill="#0e0878"/>
<rect x="613.66" y="147.50" width="9.31" height="9.34" fill="#0e0878"/>
<rect x="622.98" y="147.50" width="9.31" height="9.34" fill="#0e0878"/>
<rect x="632.29" y="147.50" width="9.31" height="9.34" fill="#0e0878"/>
<rect x="641.60" y="147.50" width="9.31" height="9.34" fill="#2a2a8e"/>
<rect x="650.91" y="147.50" width="9.31" height="9.34" fill="#40409e"/>
<rect x="660.22" y="147.50" width="9.31" height="9.34" fill="#2a2a8e"/>
<rect x="669.54" y="147.50" width="9.31" height="9.34" fill="#5656aa"/>
<rect x="678.85" y="147.50" width="9.31" height="9.34" fill="#bcbce0"/>
<rect x="585.73" y="156.84" width="9.31" height="9.34" fill="#e49494"/>
<rect x="595.04" y="156.84" width="9.31" height="9.34" fill="#5656aa"/>
<rect x="604.35" y="156.84" width="9.31" height="9.34" fill="#0e0878"/>
<rect x="613.66" y="156.84" width="9.31" height="9.34" fill="#0e0878"/>
<rect x="622.98" y="156.84" width="9.31" height="9.34" fill="#0e0878"/>
<rect x="632.29" y="156.84" width="9.31" height="9.34" fill="#0e0878"/>
<rect x="641.60" y="156.84" width="9.31" height="9.34" fill="#0e0878"/>
<rect x="650.91" y="156.84" width="9.31" height="9.34" fill="#2a2a8e"/>
<rect x="660.22" y="156.84" width="9.31" height="9.34" fill="#2a2a8e"/>
<rect x="669.54" y="156.84" width="9.31" height="9.34" fill="#5656aa"/>
<rect x="678.85" y="156.84" width="9.31" height="9.34" fill="#bcbce0"/>
<rect x="595.04" y="166.18" width="9.31" height="9.34" fill="#bcbce0"/>
<rect x="604.35" y="166.18" width="9.31" height="9.34" fill="#5656aa"/>
<rect x="613.66" y="166.18" width="9.31" height="9.34" fill="#40409e"/>
<rect x="622.98" y="166.18" width="9.31" height="9.34" fill="#2a2a8e"/>
<rect x="632.29" y="166.18" width="9.31" height="9.34" fill="#0e0878"/>
<rect x="641.60" y="166.18" width="9.31" height="9.34" fill="#0e0878"/>
<rect x="650.91" y="166.18" width="9.31" height="9.34" fill="#2a2a8e"/>
<rect x="660.22" y="166.18" width="9.31" height="9.34" fill="#40409e"/>
<rect x="669.54" y="166.18" width="9.31" height="9.34" fill="#5656aa"/>
<rect x="678.85" y="166.18" width="9.31" height="9.34" fill="#bcbce0"/>
<rect x="585.73" y="175.53" width="9.31" height="9.34" fill="#e49494"/>
<rect x="595.04" y="175.53" width="9.31" height="9.34" fill="#40409e"/>
<rect x="604.35" y="175.53" width="9.31" height="9.34" fill="#2a2a8e"/>
<rect x="613.66" y="175.53" width="9.31" height="9.34" fill="#0e0878"/>
<rect x="622.98" y="175.53" width="9.31" height="9.34" fill="#0e0878"/>
<rect x="632.29" y="175.53" width="9.31" height="9.34" fill="#0e0878"/>
<rect x="641.60" y="175.53" width="9.31" height="9.34" fill="#2a2a8e"/>
<rect x="650.91" y="175.53" width="9.31" height="9.34" fill="#0e0878"/>
<rect x="660.22" y="175.53" width="9.31" height="9.34" fill="#0e0878"/>
<rect x="669.54" y="175.53" width="9.31" height="9.34" fill="#0e0878"/>
<rect x="678.85" y="175.53" width="9.31" height="9.34" fill="#2a2a8e"/>
<rect x="688.16" y="175.53" width="9.31" height="9.34" fill="#e9acac"/>
<rect x="595.04" y="184.87" width="9.31" height="9.34" fill="#d4d4ec"/>
<rect x="604.35" y="184.87" width="9.31" height="9.34" fill="#7272b8"/>
<rect x="613.66" y="184.87" width="9.31" height="9.34" fill="#7272b8"/>
<rect x="622.98" y="184.87" width="9.31" height="9.34" fill="#5656aa"/>
<rect x="632.29" y="184.87" width="9.31" height="9.34" fill="#5656aa"/>
<rect x="641.60" y="184.87" width="9.31" height="9.34" fill="#5656aa"/>
<rect x="650.91" y="184.87" width="9.31" height="9.34" fill="#7272b8"/>
<rect x="660.22" y="184.87" width="9.31" height="9.34" fill="#7272b8"/>
<rect x="669.54" y="184.87" width="9.31" height="9.34" fill="#7272b8"/>
<rect x="678.85" y="184.87" width="9.31" height="9.34" fill="#d4d4ec"/>
<rect x="604.70" y="99.60" width="73.30" height="1.20" fill="#a8a8d4"/>
<path d="M580.9 98.3 Q581.3 95.6 585.6 95.4" stroke="#f2e8ee" stroke-width="1.3" fill="none" shape-rendering="auto"/>
<rect x="620.00" y="80.90" width="40.70" height="1.50" fill="#d87070"/>
<rect x="577.20" y="203.40" width="1.60" height="9.20" fill="#3a3aa0"/>
<rect x="702.60" y="203.50" width="1.80" height="9.00" fill="#d8c4d8"/>
<rect x="553.00" y="60.50" width="4.80" height="11.80" fill="#f4f0f4"/>
<rect x="557.80" y="60.50" width="9.30" height="11.80" fill="#e8a8a8"/>
<rect x="553.00" y="72.30" width="4.80" height="9.80" fill="#eab8b8"/>
<rect x="706.80" y="60.50" width="9.30" height="11.80" fill="#da6868"/>
<rect x="716.10" y="60.50" width="9.30" height="11.80" fill="#e49898"/>
<rect x="725.40" y="60.50" width="11.20" height="11.80" fill="#f4eef4"/>
<rect x="725.40" y="72.30" width="11.20" height="9.80" fill="#e6a0a0"/>
<rect x="725.40" y="82.10" width="11.20" height="9.30" fill="#e08080"/>
<rect x="553.00" y="203.60" width="4.80" height="9.30" fill="#e8b0b0"/>
<rect x="553.00" y="212.90" width="4.80" height="9.30" fill="#ecbcbc"/>
<rect x="553.00" y="222.20" width="4.80" height="9.40" fill="#f4f0f4"/>
<rect x="557.80" y="222.20" width="9.30" height="9.40" fill="#e8a8a8"/>
<rect x="553.00" y="231.60" width="4.80" height="9.30" fill="#eeeef8"/>
<rect x="557.80" y="231.60" width="9.30" height="9.30" fill="#f6f4f8"/>
<rect x="567.10" y="231.60" width="9.30" height="9.30" fill="#e8a4a4"/>
<rect x="553.00" y="240.90" width="4.80" height="6.60" fill="#dcdcf0"/>
<rect x="557.80" y="240.90" width="9.30" height="6.60" fill="#f6f4f8"/>
<rect x="567.10" y="240.90" width="9.30" height="6.60" fill="#f0d8d8"/>
<rect x="576.40" y="240.90" width="9.30" height="6.60" fill="#e49898"/>
<rect x="725.40" y="203.60" width="11.20" height="9.30" fill="#e07878"/>
<rect x="725.40" y="212.90" width="11.20" height="9.30" fill="#e8a8a8"/>
<rect x="725.40" y="222.20" width="11.20" height="9.40" fill="#f0e8f0"/>
<rect x="716.10" y="222.20" width="9.30" height="9.40" fill="#e49898"/>
<rect x="725.40" y="231.60" width="11.20" height="9.30" fill="#dcdcf0"/>
<rect x="716.10" y="231.60" width="9.30" height="9.30" fill="#f4f4f8"/>
<rect x="706.80" y="231.60" width="9.30" height="9.30" fill="#e49898"/>
<rect x="725.40" y="240.90" width="11.20" height="6.60" fill="#c8c8e8"/>
<rect x="716.10" y="240.90" width="9.30" height="6.60" fill="#e0e0f2"/>
<rect x="706.80" y="240.90" width="9.30" height="6.60" fill="#f6f4f8"/>
<rect x="697.50" y="240.90" width="9.30" height="6.60" fill="#e8a8a8"/>
<rect x="549.80" y="60.50" width="4.20" height="187.50" fill="#0a0466"/>
<rect x="549.80" y="245.60" width="186.80" height="2.40" fill="#0a0466"/>
</g>
<line x1="556.06" y1="60.50" x2="556.06" y2="55.00" stroke="#3a3a3a" stroke-width="1.5" shape-rendering="auto"/>
<line x1="556.06" y1="247.50" x2="556.06" y2="253.30" stroke="#3a3a3a" stroke-width="1.5" shape-rendering="auto"/>
<line x1="568.28" y1="60.50" x2="568.28" y2="48.70" stroke="#3a3a3a" stroke-width="1.5" shape-rendering="auto"/>
<line x1="568.28" y1="247.50" x2="568.28" y2="260.00" stroke="#3a3a3a" stroke-width="1.5" shape-rendering="auto"/>
<line x1="580.50" y1="60.50" x2="580.50" y2="55.00" stroke="#3a3a3a" stroke-width="1.5" shape-rendering="auto"/>
<line x1="580.50" y1="247.50" x2="580.50" y2="253.30" stroke="#3a3a3a" stroke-width="1.5" shape-rendering="auto"/>
<line x1="592.72" y1="60.50" x2="592.72" y2="48.70" stroke="#3a3a3a" stroke-width="1.5" shape-rendering="auto"/>
<line x1="592.72" y1="247.50" x2="592.72" y2="260.00" stroke="#3a3a3a" stroke-width="1.5" shape-rendering="auto"/>
<line x1="604.94" y1="60.50" x2="604.94" y2="55.00" stroke="#3a3a3a" stroke-width="1.5" shape-rendering="auto"/>
<line x1="604.94" y1="247.50" x2="604.94" y2="253.30" stroke="#3a3a3a" stroke-width="1.5" shape-rendering="auto"/>
<line x1="617.16" y1="60.50" x2="617.16" y2="48.70" stroke="#3a3a3a" stroke-width="1.5" shape-rendering="auto"/>
<line x1="617.16" y1="247.50" x2="617.16" y2="260.00" stroke="#3a3a3a" stroke-width="1.5" shape-rendering="auto"/>
<line x1="629.38" y1="60.50" x2="629.38" y2="55.00" stroke="#3a3a3a" stroke-width="1.5" shape-rendering="auto"/>
<line x1="629.38" y1="247.50" x2="629.38" y2="253.30" stroke="#3a3a3a" stroke-width="1.5" shape-rendering="auto"/>
<line x1="641.60" y1="60.50" x2="641.60" y2="48.70" stroke="#3a3a3a" stroke-width="1.5" shape-rendering="auto"/>
<line x1="641.60" y1="247.50" x2="641.60" y2="260.00" stroke="#3a3a3a" stroke-width="1.5" shape-rendering="auto"/>
<line x1="653.82" y1="60.50" x2="653.82" y2="55.00" stroke="#3a3a3a" stroke-width="1.5" shape-rendering="auto"/>
<line x1="653.82" y1="247.50" x2="653.82" y2="253.30" stroke="#3a3a3a" stroke-width="1.5" shape-rendering="auto"/>
<line x1="666.04" y1="60.50" x2="666.04" y2="48.70" stroke="#3a3a3a" stroke-width="1.5" shape-rendering="auto"/>
<line x1="666.04" y1="247.50" x2="666.04" y2="260.00" stroke="#3a3a3a" stroke-width="1.5" shape-rendering="auto"/>
<line x1="678.26" y1="60.50" x2="678.26" y2="55.00" stroke="#3a3a3a" stroke-width="1.5" shape-rendering="auto"/>
<line x1="678.26" y1="247.50" x2="678.26" y2="253.30" stroke="#3a3a3a" stroke-width="1.5" shape-rendering="auto"/>
<line x1="690.48" y1="60.50" x2="690.48" y2="48.70" stroke="#3a3a3a" stroke-width="1.5" shape-rendering="auto"/>
<line x1="690.48" y1="247.50" x2="690.48" y2="260.00" stroke="#3a3a3a" stroke-width="1.5" shape-rendering="auto"/>
<line x1="702.70" y1="60.50" x2="702.70" y2="55.00" stroke="#3a3a3a" stroke-width="1.5" shape-rendering="auto"/>
<line x1="702.70" y1="247.50" x2="702.70" y2="253.30" stroke="#3a3a3a" stroke-width="1.5" shape-rendering="auto"/>
<line x1="714.92" y1="60.50" x2="714.92" y2="48.70" stroke="#3a3a3a" stroke-width="1.5" shape-rendering="auto"/>
<line x1="714.92" y1="247.50" x2="714.92" y2="260.00" stroke="#3a3a3a" stroke-width="1.5" shape-rendering="auto"/>
<line x1="727.14" y1="60.50" x2="727.14" y2="55.00" stroke="#3a3a3a" stroke-width="1.5" shape-rendering="auto"/>
<line x1="727.14" y1="247.50" x2="727.14" y2="253.30" stroke="#3a3a3a" stroke-width="1.5" shape-rendering="auto"/>
<line x1="550.00" y1="245.58" x2="538.20" y2="245.58" stroke="#3a3a3a" stroke-width="1.5" shape-rendering="auto"/>
<line x1="737.90" y1="245.58" x2="745.20" y2="245.58" stroke="#3a3a3a" stroke-width="1.5" shape-rendering="auto"/>
<line x1="550.00" y1="233.32" x2="545.00" y2="233.32" stroke="#3a3a3a" stroke-width="1.5" shape-rendering="auto"/>
<line x1="737.90" y1="233.32" x2="742.10" y2="233.32" stroke="#3a3a3a" stroke-width="1.5" shape-rendering="auto"/>
<line x1="550.00" y1="221.06" x2="538.20" y2="221.06" stroke="#3a3a3a" stroke-width="1.5" shape-rendering="auto"/>
<line x1="737.90" y1="221.06" x2="745.20" y2="221.06" stroke="#3a3a3a" stroke-width="1.5" shape-rendering="auto"/>
<line x1="550.00" y1="208.80" x2="545.00" y2="208.80" stroke="#3a3a3a" stroke-width="1.5" shape-rendering="auto"/>
<line x1="737.90" y1="208.80" x2="742.10" y2="208.80" stroke="#3a3a3a" stroke-width="1.5" shape-rendering="auto"/>
<line x1="550.00" y1="196.54" x2="538.20" y2="196.54" stroke="#3a3a3a" stroke-width="1.5" shape-rendering="auto"/>
<line x1="737.90" y1="196.54" x2="745.20" y2="196.54" stroke="#3a3a3a" stroke-width="1.5" shape-rendering="auto"/>
<line x1="550.00" y1="184.28" x2="545.00" y2="184.28" stroke="#3a3a3a" stroke-width="1.5" shape-rendering="auto"/>
<line x1="737.90" y1="184.28" x2="742.10" y2="184.28" stroke="#3a3a3a" stroke-width="1.5" shape-rendering="auto"/>
<line x1="550.00" y1="172.02" x2="538.20" y2="172.02" stroke="#3a3a3a" stroke-width="1.5" shape-rendering="auto"/>
<line x1="737.90" y1="172.02" x2="745.20" y2="172.02" stroke="#3a3a3a" stroke-width="1.5" shape-rendering="auto"/>
<line x1="550.00" y1="159.76" x2="545.00" y2="159.76" stroke="#3a3a3a" stroke-width="1.5" shape-rendering="auto"/>
<line x1="737.90" y1="159.76" x2="742.10" y2="159.76" stroke="#3a3a3a" stroke-width="1.5" shape-rendering="auto"/>
<line x1="550.00" y1="147.50" x2="538.20" y2="147.50" stroke="#3a3a3a" stroke-width="1.5" shape-rendering="auto"/>
<line x1="737.90" y1="147.50" x2="745.20" y2="147.50" stroke="#3a3a3a" stroke-width="1.5" shape-rendering="auto"/>
<line x1="550.00" y1="135.24" x2="545.00" y2="135.24" stroke="#3a3a3a" stroke-width="1.5" shape-rendering="auto"/>
<line x1="737.90" y1="135.24" x2="742.10" y2="135.24" stroke="#3a3a3a" stroke-width="1.5" shape-rendering="auto"/>
<line x1="550.00" y1="122.98" x2="538.20" y2="122.98" stroke="#3a3a3a" stroke-width="1.5" shape-rendering="auto"/>
<line x1="737.90" y1="122.98" x2="745.20" y2="122.98" stroke="#3a3a3a" stroke-width="1.5" shape-rendering="auto"/>
<line x1="550.00" y1="110.72" x2="545.00" y2="110.72" stroke="#3a3a3a" stroke-width="1.5" shape-rendering="auto"/>
<line x1="737.90" y1="110.72" x2="742.10" y2="110.72" stroke="#3a3a3a" stroke-width="1.5" shape-rendering="auto"/>
<line x1="550.00" y1="98.46" x2="538.20" y2="98.46" stroke="#3a3a3a" stroke-width="1.5" shape-rendering="auto"/>
<line x1="737.90" y1="98.46" x2="745.20" y2="98.46" stroke="#3a3a3a" stroke-width="1.5" shape-rendering="auto"/>
<line x1="550.00" y1="86.20" x2="545.00" y2="86.20" stroke="#3a3a3a" stroke-width="1.5" shape-rendering="auto"/>
<line x1="737.90" y1="86.20" x2="742.10" y2="86.20" stroke="#3a3a3a" stroke-width="1.5" shape-rendering="auto"/>
<line x1="550.00" y1="73.94" x2="538.20" y2="73.94" stroke="#3a3a3a" stroke-width="1.5" shape-rendering="auto"/>
<line x1="737.90" y1="73.94" x2="745.20" y2="73.94" stroke="#3a3a3a" stroke-width="1.5" shape-rendering="auto"/>
<line x1="550.00" y1="61.68" x2="545.00" y2="61.68" stroke="#3a3a3a" stroke-width="1.5" shape-rendering="auto"/>
<line x1="737.90" y1="61.68" x2="742.10" y2="61.68" stroke="#3a3a3a" stroke-width="1.5" shape-rendering="auto"/>
<line x1="550.00" y1="59.90" x2="738.20" y2="59.90" stroke="#3a2a2a" stroke-width="1.4" shape-rendering="auto"/>
<line x1="737.40" y1="59.30" x2="737.40" y2="248.00" stroke="#2e2e2e" stroke-width="1.6" shape-rendering="auto"/>
<rect x="246.00" y="3.00" width="1.60" height="15.00" fill="#e8ecf4"/>
<rect x="502.30" y="3.00" width="1.60" height="15.00" fill="#e8ecf4"/>
<line x1="0.00" y1="129.70" x2="3.00" y2="129.70" stroke="#222" stroke-width="1.2" shape-rendering="auto"/>
</g>
<g filter="url(#bt)" shape-rendering="auto">
<text x="2.0" y="12.9" font-family="Liberation Sans" font-size="11.3" font-weight="bold" fill="#000000" stroke="#000000" stroke-width="0.25" text-anchor="start" textLength="51.2" lengthAdjust="spacingAndGlyphs">Gamma,</text>
<text x="58.6" y="12.9" font-family="Liberation Sans" font-size="13.4" font-weight="normal" fill="#000000" stroke="#000000" stroke-width="0.7" text-anchor="start" textLength="20.4" lengthAdjust="spacingAndGlyphs">1.0</text>
<text x="83.8" y="12.9" font-family="Liberation Sans" font-size="11.3" font-weight="bold" fill="#000000" stroke="#000000" stroke-width="0.25" text-anchor="start" textLength="14.4" lengthAdjust="spacingAndGlyphs">%,</text>
<text x="104.0" y="12.9" font-family="Liberation Sans" font-size="13.4" font-weight="normal" fill="#000000" stroke="#000000" stroke-width="0.7" text-anchor="start" textLength="20.4" lengthAdjust="spacingAndGlyphs">1.0</text>
<text x="130.6" y="12.9" font-family="Liberation Sans" font-size="11.3" font-weight="bold" fill="#000000" stroke="#000000" stroke-width="0.25" text-anchor="start" textLength="25.8" lengthAdjust="spacingAndGlyphs">mm,</text>
<text x="162.4" y="12.9" font-family="Liberation Sans" font-size="11.3" font-weight="bold" fill="#000000" stroke="#000000" stroke-width="0.25" text-anchor="start" textLength="49.8" lengthAdjust="spacingAndGlyphs">&lt;VALID&gt;</text>
<text x="86.6" y="36.0" font-family="Liberation Sans" font-size="10.6" font-weight="bold" fill="#000000" stroke="#000000" stroke-width="0.35" text-anchor="start" textLength="79.7" lengthAdjust="spacingAndGlyphs">2 mm MLC Gap</text>
<g transform="translate(94.45,277.2) scale(1.01,1)">
<text x="0" y="0" font-family="Liberation Sans" font-size="13.4" font-weight="bold" fill="#140a6a" stroke="#140a6a" stroke-width="0.15" text-anchor="middle">-4.0</text>
</g>
<g transform="translate(143.05,277.2) scale(1.01,1)">
<text x="0" y="0" font-family="Liberation Sans" font-size="13.4" font-weight="bold" fill="#140a6a" stroke="#140a6a" stroke-width="0.15" text-anchor="middle">0.0</text>
</g>
<g transform="translate(191.65,277.2) scale(1.01,1)">
<text x="0" y="0" font-family="Liberation Sans" font-size="13.4" font-weight="bold" fill="#140a6a" stroke="#140a6a" stroke-width="0.15" text-anchor="middle">4.0</text>
</g>
<g transform="translate(30.8,83.05) scale(1.01,1)">
<text x="0" y="0" font-family="Liberation Sans" font-size="13.4" font-weight="bold" fill="#140a6a" stroke="#140a6a" stroke-width="0.15" text-anchor="end">6.0</text>
</g>
<g transform="translate(30.8,107.45) scale(1.01,1)">
<text x="0" y="0" font-family="Liberation Sans" font-size="13.4" font-weight="bold" fill="#140a6a" stroke="#140a6a" stroke-width="0.15" text-anchor="end">4.0</text>
</g>
<g transform="translate(30.8,131.85) scale(1.01,1)">
<text x="0" y="0" font-family="Liberation Sans" font-size="13.4" font-weight="bold" fill="#140a6a" stroke="#140a6a" stroke-width="0.15" text-anchor="end">2.0</text>
</g>
<g transform="translate(30.8,156.25) scale(1.01,1)">
<text x="0" y="0" font-family="Liberation Sans" font-size="13.4" font-weight="bold" fill="#140a6a" stroke="#140a6a" stroke-width="0.15" text-anchor="end">0.0</text>
</g>
<g transform="translate(30.8,180.65) scale(1.01,1)">
<text x="0" y="0" font-family="Liberation Sans" font-size="13.4" font-weight="bold" fill="#140a6a" stroke="#140a6a" stroke-width="0.15" text-anchor="end">-2.0</text>
</g>
<g transform="translate(30.8,205.05) scale(1.01,1)">
<text x="0" y="0" font-family="Liberation Sans" font-size="13.4" font-weight="bold" fill="#140a6a" stroke="#140a6a" stroke-width="0.15" text-anchor="end">-4.0</text>
</g>
<g transform="translate(30.8,229.45) scale(1.01,1)">
<text x="0" y="0" font-family="Liberation Sans" font-size="13.4" font-weight="bold" fill="#140a6a" stroke="#140a6a" stroke-width="0.15" text-anchor="end">-6.0</text>
</g>
<text x="27.6" y="48.1" font-family="Liberation Sans" font-size="13" font-weight="bold" fill="#140a6a" stroke="#140a6a" stroke-width="0.5" text-anchor="start" textLength="24.5" lengthAdjust="spacingAndGlyphs">[cm]</text>
<text x="56.6" y="48.1" font-family="Liberation Sans" font-size="13.4" font-weight="bold" fill="#140a6a" stroke="#140a6a" stroke-width="0.15" text-anchor="start" textLength="10.5" lengthAdjust="spacingAndGlyphs">Y</text>
<text x="196.2" y="294.9" font-family="Liberation Sans" font-size="13" font-weight="bold" fill="#140a6a" stroke="#140a6a" stroke-width="0.5" text-anchor="start" textLength="24.0" lengthAdjust="spacingAndGlyphs">[cm]</text>
<text x="225.0" y="294.9" font-family="Liberation Sans" font-size="13.5" font-weight="bold" fill="#140a6a" stroke="#140a6a" stroke-width="0.15" text-anchor="start" textLength="9.6" lengthAdjust="spacingAndGlyphs">X</text>
<text x="249.5" y="12.9" font-family="Liberation Sans" font-size="11.3" font-weight="bold" fill="#000000" stroke="#000000" stroke-width="0.25" text-anchor="start" textLength="51.2" lengthAdjust="spacingAndGlyphs">Gamma,</text>
<text x="306.1" y="12.9" font-family="Liberation Sans" font-size="13.4" font-weight="normal" fill="#000000" stroke="#000000" stroke-width="0.7" text-anchor="start" textLength="20.4" lengthAdjust="spacingAndGlyphs">1.0</text>
<text x="331.3" y="12.9" font-family="Liberation Sans" font-size="11.3" font-weight="bold" fill="#000000" stroke="#000000" stroke-width="0.25" text-anchor="start" textLength="14.4" lengthAdjust="spacingAndGlyphs">%,</text>
<text x="351.5" y="12.9" font-family="Liberation Sans" font-size="13.4" font-weight="normal" fill="#000000" stroke="#000000" stroke-width="0.7" text-anchor="start" textLength="20.4" lengthAdjust="spacingAndGlyphs">1.0</text>
<text x="378.1" y="12.9" font-family="Liberation Sans" font-size="11.3" font-weight="bold" fill="#000000" stroke="#000000" stroke-width="0.25" text-anchor="start" textLength="25.8" lengthAdjust="spacingAndGlyphs">mm,</text>
<text x="409.9" y="12.9" font-family="Liberation Sans" font-size="11.3" font-weight="bold" fill="#000000" stroke="#000000" stroke-width="0.25" text-anchor="start" textLength="49.8" lengthAdjust="spacingAndGlyphs">&lt;VALID&gt;</text>
<text x="350.7" y="35.3" font-family="Liberation Sans" font-size="10.6" font-weight="bold" fill="#000000" stroke="#000000" stroke-width="0.35" text-anchor="start" textLength="86.0" lengthAdjust="spacingAndGlyphs">10 mm MLC Gap</text>
<g transform="translate(301.02,277.2) scale(1.01,1)">
<text x="0" y="0" font-family="Liberation Sans" font-size="13.4" font-weight="bold" fill="#140a6a" stroke="#140a6a" stroke-width="0.15" text-anchor="middle">-8.0</text>
</g>
<g transform="translate(347.46,277.2) scale(1.01,1)">
<text x="0" y="0" font-family="Liberation Sans" font-size="13.4" font-weight="bold" fill="#140a6a" stroke="#140a6a" stroke-width="0.15" text-anchor="middle">-4.0</text>
</g>
<g transform="translate(393.90,277.2) scale(1.01,1)">
<text x="0" y="0" font-family="Liberation Sans" font-size="13.4" font-weight="bold" fill="#140a6a" stroke="#140a6a" stroke-width="0.15" text-anchor="middle">0.0</text>
</g>
<g transform="translate(440.34,277.2) scale(1.01,1)">
<text x="0" y="0" font-family="Liberation Sans" font-size="13.4" font-weight="bold" fill="#140a6a" stroke="#140a6a" stroke-width="0.15" text-anchor="middle">4.0</text>
</g>
<g transform="translate(486.78,277.2) scale(1.01,1)">
<text x="0" y="0" font-family="Liberation Sans" font-size="13.4" font-weight="bold" fill="#140a6a" stroke="#140a6a" stroke-width="0.15" text-anchor="middle">8.0</text>
</g>
<g transform="translate(276.6,86.02) scale(1.01,1)">
<text x="0" y="0" font-family="Liberation Sans" font-size="13.4" font-weight="bold" fill="#140a6a" stroke="#140a6a" stroke-width="0.15" text-anchor="end">6.0</text>
</g>
<g transform="translate(276.6,109.28) scale(1.01,1)">
<text x="0" y="0" font-family="Liberation Sans" font-size="13.4" font-weight="bold" fill="#140a6a" stroke="#140a6a" stroke-width="0.15" text-anchor="end">4.0</text>
</g>
<g transform="translate(276.6,132.54) scale(1.01,1)">
<text x="0" y="0" font-family="Liberation Sans" font-size="13.4" font-weight="bold" fill="#140a6a" stroke="#140a6a" stroke-width="0.15" text-anchor="end">2.0</text>
</g>
<g transform="translate(276.6,155.80) scale(1.01,1)">
<text x="0" y="0" font-family="Liberation Sans" font-size="13.4" font-weight="bold" fill="#140a6a" stroke="#140a6a" stroke-width="0.15" text-anchor="end">0.0</text>
</g>
<g transform="translate(276.6,179.06) scale(1.01,1)">
<text x="0" y="0" font-family="Liberation Sans" font-size="13.4" font-weight="bold" fill="#140a6a" stroke="#140a6a" stroke-width="0.15" text-anchor="end">-2.0</text>
</g>
<g transform="translate(276.6,202.32) scale(1.01,1)">
<text x="0" y="0" font-family="Liberation Sans" font-size="13.4" font-weight="bold" fill="#140a6a" stroke="#140a6a" stroke-width="0.15" text-anchor="end">-4.0</text>
</g>
<g transform="translate(276.6,225.58) scale(1.01,1)">
<text x="0" y="0" font-family="Liberation Sans" font-size="13.4" font-weight="bold" fill="#140a6a" stroke="#140a6a" stroke-width="0.15" text-anchor="end">-6.0</text>
</g>
<g transform="translate(276.6,248.84) scale(1.01,1)">
<text x="0" y="0" font-family="Liberation Sans" font-size="13.4" font-weight="bold" fill="#140a6a" stroke="#140a6a" stroke-width="0.15" text-anchor="end">-8.0</text>
</g>
<text x="274.3" y="48.1" font-family="Liberation Sans" font-size="13" font-weight="bold" fill="#140a6a" stroke="#140a6a" stroke-width="0.5" text-anchor="start" textLength="24.5" lengthAdjust="spacingAndGlyphs">[cm]</text>
<text x="303.3" y="48.1" font-family="Liberation Sans" font-size="13.4" font-weight="bold" fill="#140a6a" stroke="#140a6a" stroke-width="0.15" text-anchor="start" textLength="10.5" lengthAdjust="spacingAndGlyphs">Y</text>
<text x="450.3" y="294.8" font-family="Liberation Sans" font-size="13" font-weight="bold" fill="#140a6a" stroke="#140a6a" stroke-width="0.5" text-anchor="start" textLength="24.0" lengthAdjust="spacingAndGlyphs">[cm]</text>
<text x="479.1" y="294.8" font-family="Liberation Sans" font-size="13.5" font-weight="bold" fill="#140a6a" stroke="#140a6a" stroke-width="0.15" text-anchor="start" textLength="9.6" lengthAdjust="spacingAndGlyphs">X</text>
<text x="505.6" y="12.9" font-family="Liberation Sans" font-size="11.3" font-weight="bold" fill="#000000" stroke="#000000" stroke-width="0.25" text-anchor="start" textLength="51.2" lengthAdjust="spacingAndGlyphs">Gamma,</text>
<text x="562.2" y="12.9" font-family="Liberation Sans" font-size="13.4" font-weight="normal" fill="#000000" stroke="#000000" stroke-width="0.7" text-anchor="start" textLength="20.4" lengthAdjust="spacingAndGlyphs">1.0</text>
<text x="587.4" y="12.9" font-family="Liberation Sans" font-size="11.3" font-weight="bold" fill="#000000" stroke="#000000" stroke-width="0.25" text-anchor="start" textLength="14.4" lengthAdjust="spacingAndGlyphs">%,</text>
<text x="607.6" y="12.9" font-family="Liberation Sans" font-size="13.4" font-weight="normal" fill="#000000" stroke="#000000" stroke-width="0.7" text-anchor="start" textLength="20.4" lengthAdjust="spacingAndGlyphs">1.0</text>
<text x="634.2" y="12.9" font-family="Liberation Sans" font-size="11.3" font-weight="bold" fill="#000000" stroke="#000000" stroke-width="0.25" text-anchor="start" textLength="25.8" lengthAdjust="spacingAndGlyphs">mm,</text>
<text x="666.0" y="12.9" font-family="Liberation Sans" font-size="11.3" font-weight="bold" fill="#000000" stroke="#000000" stroke-width="0.25" text-anchor="start" textLength="49.8" lengthAdjust="spacingAndGlyphs">&lt;VALID&gt;</text>
<text x="605.9" y="32.9" font-family="Liberation Sans" font-size="10.6" font-weight="bold" fill="#000000" stroke="#000000" stroke-width="0.35" text-anchor="start" textLength="85.8" lengthAdjust="spacingAndGlyphs">20 mm MLC Gap</text>
<g transform="translate(592.72,277.2) scale(1.01,1)">
<text x="0" y="0" font-family="Liberation Sans" font-size="13.4" font-weight="bold" fill="#140a6a" stroke="#140a6a" stroke-width="0.15" text-anchor="middle">-4.0</text>
</g>
<g transform="translate(641.60,277.2) scale(1.01,1)">
<text x="0" y="0" font-family="Liberation Sans" font-size="13.4" font-weight="bold" fill="#140a6a" stroke="#140a6a" stroke-width="0.15" text-anchor="middle">0.0</text>
</g>
<g transform="translate(690.48,277.2) scale(1.01,1)">
<text x="0" y="0" font-family="Liberation Sans" font-size="13.4" font-weight="bold" fill="#140a6a" stroke="#140a6a" stroke-width="0.15" text-anchor="middle">4.0</text>
</g>
<g transform="translate(533.7,78.84) scale(1.01,1)">
<text x="0" y="0" font-family="Liberation Sans" font-size="13.4" font-weight="bold" fill="#140a6a" stroke="#140a6a" stroke-width="0.15" text-anchor="end">6.0</text>
</g>
<g transform="translate(533.7,103.36) scale(1.01,1)">
<text x="0" y="0" font-family="Liberation Sans" font-size="13.4" font-weight="bold" fill="#140a6a" stroke="#140a6a" stroke-width="0.15" text-anchor="end">4.0</text>
</g>
<g transform="translate(533.7,127.88) scale(1.01,1)">
<text x="0" y="0" font-family="Liberation Sans" font-size="13.4" font-weight="bold" fill="#140a6a" stroke="#140a6a" stroke-width="0.15" text-anchor="end">2.0</text>
</g>
<g transform="translate(533.7,152.40) scale(1.01,1)">
<text x="0" y="0" font-family="Liberation Sans" font-size="13.4" font-weight="bold" fill="#140a6a" stroke="#140a6a" stroke-width="0.15" text-anchor="end">0.0</text>
</g>
<g transform="translate(533.7,176.92) scale(1.01,1)">
<text x="0" y="0" font-family="Liberation Sans" font-size="13.4" font-weight="bold" fill="#140a6a" stroke="#140a6a" stroke-width="0.15" text-anchor="end">-2.0</text>
</g>
<g transform="translate(533.7,201.44) scale(1.01,1)">
<text x="0" y="0" font-family="Liberation Sans" font-size="13.4" font-weight="bold" fill="#140a6a" stroke="#140a6a" stroke-width="0.15" text-anchor="end">-4.0</text>
</g>
<g transform="translate(533.7,225.96) scale(1.01,1)">
<text x="0" y="0" font-family="Liberation Sans" font-size="13.4" font-weight="bold" fill="#140a6a" stroke="#140a6a" stroke-width="0.15" text-anchor="end">-6.0</text>
</g>
<g transform="translate(533.7,250.48) scale(1.01,1)">
<text x="0" y="0" font-family="Liberation Sans" font-size="13.4" font-weight="bold" fill="#140a6a" stroke="#140a6a" stroke-width="0.15" text-anchor="end">-8.0</text>
</g>
<text x="530.4" y="47.0" font-family="Liberation Sans" font-size="13" font-weight="bold" fill="#140a6a" stroke="#140a6a" stroke-width="0.5" text-anchor="start" textLength="24.5" lengthAdjust="spacingAndGlyphs">[cm]</text>
<text x="559.4" y="47.0" font-family="Liberation Sans" font-size="13.4" font-weight="bold" fill="#140a6a" stroke="#140a6a" stroke-width="0.15" text-anchor="start" textLength="10.5" lengthAdjust="spacingAndGlyphs">Y</text>
<text x="699.3" y="294.1" font-family="Liberation Sans" font-size="13" font-weight="bold" fill="#140a6a" stroke="#140a6a" stroke-width="0.5" text-anchor="start" textLength="24.0" lengthAdjust="spacingAndGlyphs">[cm]</text>
<text x="728.0999999999999" y="294.1" font-family="Liberation Sans" font-size="13.5" font-weight="bold" fill="#140a6a" stroke="#140a6a" stroke-width="0.15" text-anchor="start" textLength="9.6" lengthAdjust="spacingAndGlyphs">X</text>
<g shape-rendering="crispEdges">
<rect x="2" y="1.5" width="747" height="1.5" fill="#000"/>
<rect x="2" y="1.5" width="2.3" height="301.5" fill="#000"/>
<rect x="746.8" y="1.5" width="2.2000000000000455" height="301.5" fill="#000"/>
<rect x="2" y="301" width="747" height="2" fill="#000"/>
<rect x="3" y="303" width="747" height="1" fill="#6a6a6a"/>
</g>
</g>
</svg>
</body></html>
